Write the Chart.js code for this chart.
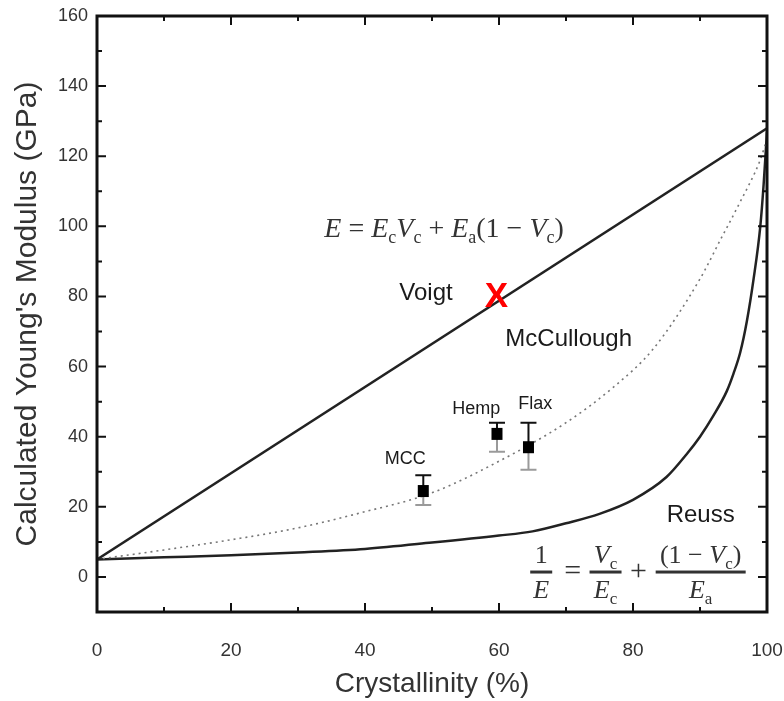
<!DOCTYPE html>
<html><head><meta charset="utf-8">
<script src="https://cdn.jsdelivr.net/npm/chart.js@4.4.0/dist/chart.umd.min.js"></script>
<style>html,body{margin:0;padding:0;background:#fff;}canvas{display:block}</style>
</head><body><canvas id="c" width="784" height="701"></canvas>
<script>
// ---- data ----
const xTicks = [0, 20, 40, 60, 80, 100];
const yTicks = [0, 20, 40, 60, 80, 100, 120, 140, 160];

const voigtX = [0, 100];
const voigtY = [5, 128];

const mccX = [0, 10, 20, 30, 40, 50, 60, 70, 77, 83, 90, 93, 96, 99, 100];
const mccY = [5, 7.7, 10.6, 14, 18.6, 24, 33, 44, 54, 65, 85, 96, 107, 119, 125];

const reussX = [0, 10, 20, 30, 40, 50, 60, 65, 70, 75, 80, 85, 88, 90, 92, 94, 95, 96, 97, 98, 99, 99.5, 100];
const reussY = [5, 5.6, 6.2, 7, 8, 9.8, 11.8, 13, 15.3, 18, 22, 28.5, 35, 40, 46, 53, 58, 64, 73, 85, 100, 112, 127];

const sampleNames = ['MCC', 'Hemp', 'Flax'];
const sampleX = [48.7, 59.7, 64.4];
const sampleY = [24.5, 40.8, 37];
const sampleHigh = [29, 44, 44];
const sampleLow = [20.5, 35.7, 30.6];

const markX = [59.6];
const markY = [80];

// ---- presentation ----
const SANS = '"Liberation Sans", Arial, Helvetica, sans-serif';
const SERIF = '"Liberation Serif", "Times New Roman", serif';
const TXT = '#1a1a1a';

const labelPos = [
  { text: 'Voigt', x: 49.1, y: 80.9, size: 24 },
  { text: 'McCullough', x: 70.4, y: 67.7, size: 24 },
  { text: 'Reuss', x: 90.1, y: 17.7, size: 24 },
  { text: sampleNames[0], x: 46.0, y: 33.6, size: 18 },
  { text: sampleNames[1], x: 56.6, y: 47.8, size: 18 },
  { text: sampleNames[2], x: 65.4, y: 49.3, size: 18 }
];

const pts = (xs, ys) => xs.map((x, i) => ({ x: x, y: ys[i] }));

function setFont(ctx, s, size) {
  ctx.font = (s.i ? 'italic ' : '') + Math.round(s.sub ? size * 0.65 : size) + 'px ' + SERIF;
}
function richWidth(ctx, segs, size) {
  let w = 0;
  for (const s of segs) { setFont(ctx, s, size); w += ctx.measureText(s.t).width; }
  return w;
}
function richDraw(ctx, segs, size, cx, cy) {
  const w = richWidth(ctx, segs, size);
  let x = cx - w / 2;
  ctx.textBaseline = 'alphabetic';
  ctx.textAlign = 'left';
  for (const s of segs) {
    setFont(ctx, s, size);
    ctx.fillText(s.t, x, cy + (s.sub ? size * 0.22 : 0));
    x += ctx.measureText(s.t).width;
  }
  return w;
}

const decor = {
  id: 'decor',
  afterDatasetsDraw(chart) {
    const ctx = chart.ctx, xs = chart.scales.x, ys = chart.scales.y;
    ctx.save();
    // error bars + squares
    for (let i = 0; i < sampleX.length; i++) {
      const px = xs.getPixelForValue(sampleX[i]);
      const py = ys.getPixelForValue(sampleY[i]);
      const ph = ys.getPixelForValue(sampleHigh[i]);
      const pl = ys.getPixelForValue(sampleLow[i]);
      ctx.lineWidth = 2;
      ctx.strokeStyle = '#9a9a9a';
      ctx.beginPath(); ctx.moveTo(px, py); ctx.lineTo(px, pl);
      ctx.moveTo(px - 8, pl); ctx.lineTo(px + 8, pl); ctx.stroke();
      ctx.strokeStyle = '#111';
      ctx.beginPath(); ctx.moveTo(px, py); ctx.lineTo(px, ph);
      ctx.moveTo(px - 8, ph); ctx.lineTo(px + 8, ph); ctx.stroke();
      ctx.fillStyle = '#000';
      ctx.fillRect(px - 5.5, py - 6, 11, 12);
    }
    // labels
    ctx.fillStyle = TXT;
    ctx.textAlign = 'center';
    ctx.textBaseline = 'middle';
    for (const l of labelPos) {
      ctx.font = l.size + 'px ' + SANS;
      ctx.fillText(l.text, xs.getPixelForValue(l.x), ys.getPixelForValue(l.y));
    }
    // Voigt formula
    ctx.fillStyle = '#333';
    const vSegs = [
      { t: 'E', i: 1 }, { t: ' = ' }, { t: 'E', i: 1 }, { t: 'c', sub: 1 }, { t: 'V', i: 1 }, { t: 'c', sub: 1 },
      { t: ' + ' }, { t: 'E', i: 1 }, { t: 'a', sub: 1 }, { t: '(1 \u2212 ' }, { t: 'V', i: 1 }, { t: 'c', sub: 1 }, { t: ')' }
    ];
    richDraw(ctx, vSegs, 28, xs.getPixelForValue(51.8), ys.getPixelForValue(97.0));
    // Reuss formula (fractions)
    const barY = ys.getPixelForValue(1.4);
    const fracs = [
      { cx: 66.3, num: [{ t: '1' }], den: [{ t: 'E', i: 1 }], w: 22 },
      { cx: 71.0, op: '=' },
      { cx: 75.9, num: [{ t: 'V', i: 1 }, { t: 'c', sub: 1 }], den: [{ t: 'E', i: 1 }, { t: 'c', sub: 1 }], w: 32 },
      { cx: 80.8, op: '+' },
      { cx: 90.1, num: [{ t: '(1 \u2212 ' }, { t: 'V', i: 1 }, { t: 'c', sub: 1 }, { t: ')' }], den: [{ t: 'E', i: 1 }, { t: 'a', sub: 1 }], w: 90 }
    ];
    for (const f of fracs) {
      const cx = xs.getPixelForValue(f.cx);
      if (f.op) {
        ctx.font = '30px ' + SERIF; ctx.textAlign = 'center'; ctx.textBaseline = 'middle';
        ctx.fillText(f.op, cx, barY);
        continue;
      }
      ctx.fillRect(cx - f.w / 2, barY - 1.5, f.w, 3);
      richDraw(ctx, f.num, 26, cx, barY - 9);
      richDraw(ctx, f.den, 26, cx, barY + 26);
    }
    // red X marker
    ctx.fillStyle = '#ff0000';
    ctx.font = 'bold 35px ' + SANS;
    ctx.textAlign = 'center'; ctx.textBaseline = 'middle';
    ctx.fillText('X', xs.getPixelForValue(markX[0]), ys.getPixelForValue(markY[0]) + 1);
    ctx.restore();
  },
  afterDraw(chart) {
    const ctx = chart.ctx, xs = chart.scales.x, ys = chart.scales.y, a = chart.chartArea;
    ctx.save();
    ctx.strokeStyle = '#111';
    ctx.lineWidth = 2;
    ctx.beginPath();
    for (let v = 0; v <= 160; v += 10) {
      const py = ys.getPixelForValue(v);
      const len = v % 20 === 0 ? 9 : 5;
      ctx.moveTo(a.left, py); ctx.lineTo(a.left + len, py);
      ctx.moveTo(a.right, py); ctx.lineTo(a.right - len, py);
    }
    for (let v = 10; v < 100; v += 10) {
      const px = xs.getPixelForValue(v);
      const len = v % 20 === 0 ? 9 : 5;
      ctx.moveTo(px, a.bottom); ctx.lineTo(px, a.bottom - len);
      ctx.moveTo(px, a.top); ctx.lineTo(px, a.top + len);
    }
    ctx.stroke();
    ctx.lineWidth = 3;
    ctx.strokeRect(a.left, a.top, a.right - a.left, a.bottom - a.top);
    ctx.restore();
  }
};

new Chart(document.getElementById('c'), {
  type: 'scatter',
  data: {
    datasets: [
      { data: pts(voigtX, voigtY), showLine: true, borderColor: '#222', borderWidth: 2.5, pointRadius: 0 },
      { data: pts(mccX, mccY), showLine: true, borderColor: '#777', borderWidth: 1.6, borderDash: [2, 4], pointRadius: 0, cubicInterpolationMode: 'monotone' },
      { data: pts(reussX, reussY), showLine: true, borderColor: '#222', borderWidth: 2.5, pointRadius: 0, cubicInterpolationMode: 'monotone' }
    ]
  },
  options: {
    responsive: false,
    animation: false,
    devicePixelRatio: 1,
    layout: { padding: { top: 16, right: 17, left: 0, bottom: 0 } },
    plugins: { legend: { display: false }, tooltip: { enabled: false } },
    scales: {
      x: {
        type: 'linear', min: 0, max: 100,
        afterBuildTicks: s => { s.ticks = xTicks.map(v => ({ value: v })); },
        afterFit: s => { s.height = 89; s.paddingLeft = 0; s.paddingRight = 0; },
        grid: { display: false, drawTicks: false },
        border: { display: false },
        ticks: { color: '#333', font: { family: SANS, size: 19 }, padding: 27, maxRotation: 0 },
        title: { display: true, text: 'Crystallinity (%)', color: '#333', font: { family: SANS, size: 28 }, padding: { top: 0, bottom: 0 } }
      },
      y: {
        type: 'linear', min: -10, max: 160,
        afterBuildTicks: s => { s.ticks = yTicks.map(v => ({ value: v })); },
        afterFit: s => { s.width = 97; s.paddingTop = 0; s.paddingBottom = 0; },
        grid: { display: false, drawTicks: false },
        border: { display: false },
        ticks: { color: '#333', font: { family: SANS, size: 18 }, padding: 9 },
        title: { display: true, text: "Calculated Young's Modulus (GPa)", color: '#333', font: { family: SANS, size: 30 }, padding: { top: 10, bottom: 0 } }
      }
    }
  },
  plugins: [decor]
});
</script>
</body></html>
